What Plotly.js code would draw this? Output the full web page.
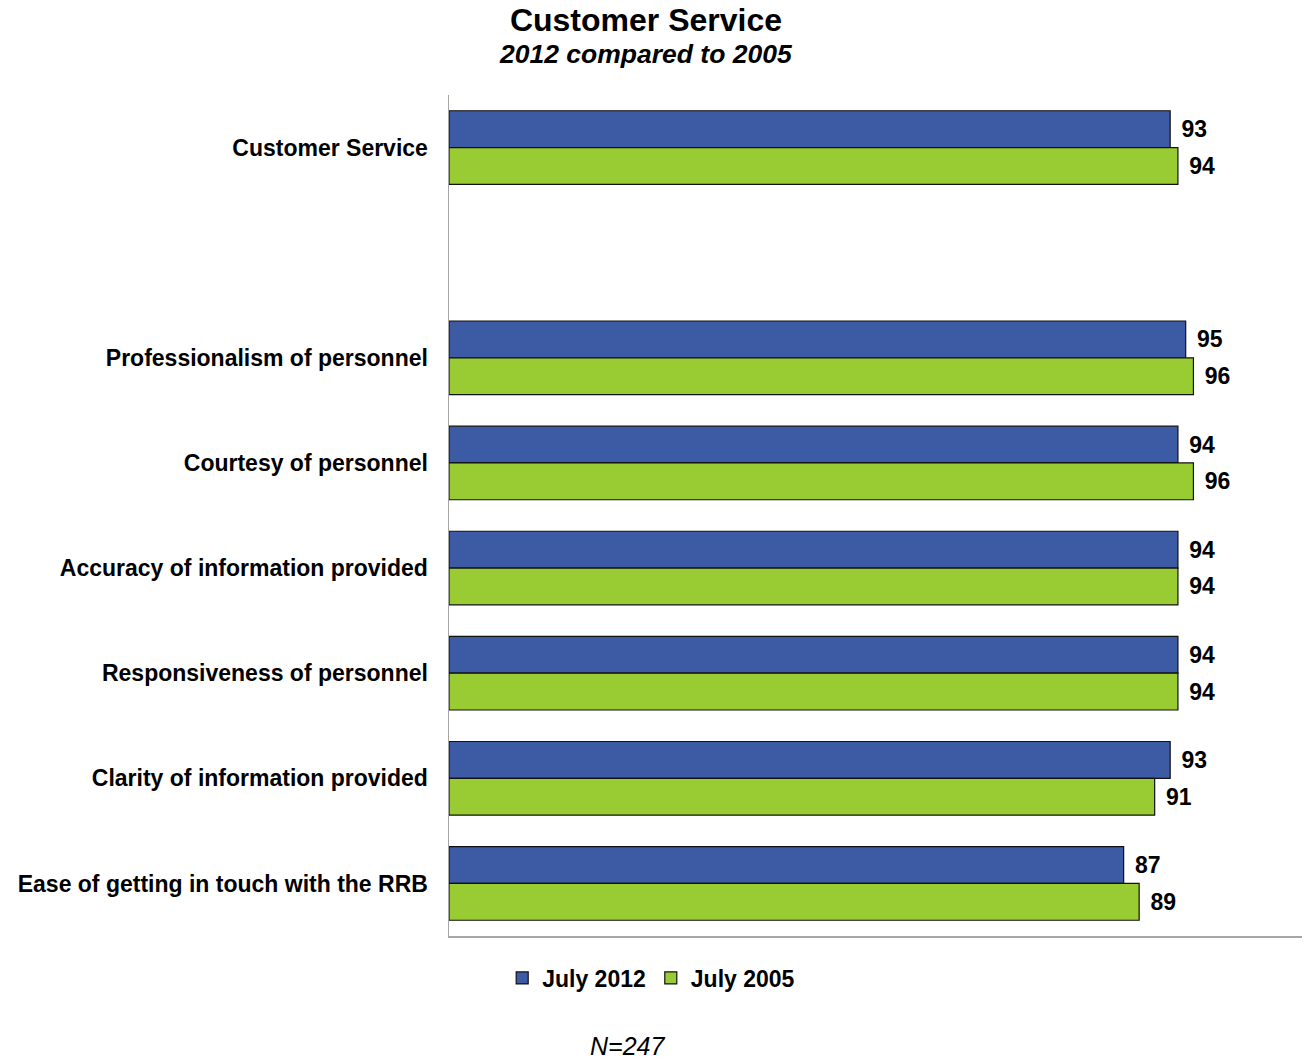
<!DOCTYPE html>
<html>
<head>
<meta charset="utf-8">
<script src="https://cdn.plot.ly/plotly-3.0.1.min.js"></script>
<style>html,body{margin:0;padding:0;background:#fff;}</style>
</head>
<body>
<div id="chart" style="width:1305px;height:1063px;"></div>
<script>
const categories = [
  "Customer Service",
  "\u00a0",
  "Professionalism of personnel",
  "Courtesy of personnel",
  "Accuracy of information provided",
  "Responsiveness of personnel",
  "Clarity of information provided",
  "Ease of getting in touch with the RRB"
];
const july2012 = [93, null, 95, 94, 94, 94, 93, 87];
const july2005 = [94, null, 96, 96, 94, 94, 91, 89];
const seriesNames = ["July 2012", "July 2005"];
const titleText = "Customer Service";
const subtitleText = "2012 compared to 2005";
const noteText = "N=247";

const FONT = "Arial, 'Liberation Sans', sans-serif";

function barTrace(name, values, color) {
  return {
    type: "bar",
    orientation: "h",
    name: name,
    y: categories,
    x: values,
    marker: {color: color, line: {color: "#111111", width: 1.2}},
    text: values.map(v => v === null ? "" : "\u00a0\u200a" + v),
    textposition: "outside",
    cliponaxis: false,
    textfont: {family: FONT, size: 23, color: "#000", weight: "bold"},
    hoverinfo: "x+name"
  };
}

const data = [
  barTrace(seriesNames[0], july2012, "#3D5AA4"),
  barTrace(seriesNames[1], july2005, "#99CC33")
];

const layout = {
  width: 1305,
  height: 1063,
  paper_bgcolor: "#ffffff",
  plot_bgcolor: "#ffffff",
  font: {family: FONT, color: "#000"},
  margin: {l: 449, r: 3, t: 95, b: 127},
  barmode: "group",
  bargap: 0.3,
  bargroupgap: 0,
  title: {
    text: "<b>" + titleText + "</b>",
    font: {family: FONT, size: 32, color: "#000"},
    x: 0.495, xref: "container", xanchor: "center",
    y: 0.9915, yref: "container", yanchor: "top"
  },
  xaxis: {
    range: [0, 110],
    showticklabels: false,
    ticks: "",
    showgrid: false,
    zeroline: false,
    showline: true,
    linecolor: "#A6A6A6",
    linewidth: 1.5,
    fixedrange: true
  },
  yaxis: {
    type: "category",
    categoryorder: "array",
    categoryarray: categories,
    autorange: "reversed",
    showgrid: false,
    zeroline: false,
    showline: true,
    linecolor: "#A6A6A6",
    linewidth: 1.5,
    ticks: "",
    ticklabelstandoff: 15,
    tickfont: {family: FONT, size: 23, color: "#000", weight: "bold"},
    fixedrange: true
  },
  showlegend: true,
  legend: {
    orientation: "h",
    xref: "container", x: 0.499, xanchor: "center",
    yref: "container", y: 0.08, yanchor: "middle",
    font: {family: FONT, size: 23, color: "#000", weight: "bold"},
    itemwidth: 30,
    traceorder: "normal"
  },
  annotations: [
    {
      text: "<b><i>" + subtitleText + "</i></b>",
      xref: "paper", yref: "paper",
      x: (646 - 449) / 853, y: 1 + (95 - 54) / 841,
      xanchor: "center", yanchor: "middle",
      font: {family: FONT, size: 26.5, color: "#000"},
      showarrow: false
    },
    {
      text: "<i>" + noteText + "</i>",
      xref: "paper", yref: "paper",
      x: (627 - 449) / 853, y: -(1046 - 936) / 841,
      xanchor: "center", yanchor: "middle",
      font: {family: FONT, size: 25, color: "#000"},
      showarrow: false
    }
  ]
};

Plotly.newPlot("chart", data, layout, {displayModeBar: false, staticPlot: true});
</script>
</body>
</html>
